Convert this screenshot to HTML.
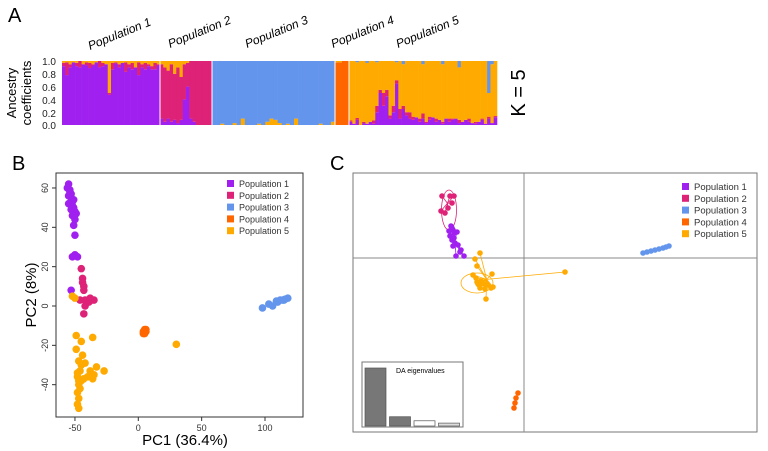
<!DOCTYPE html>
<html><head><meta charset="utf-8"><style>
html,body{margin:0;padding:0;background:#fff;}
svg{display:block;font-family:"Liberation Sans",sans-serif;}
</style></head><body>
<svg id="fig" width="768" height="451" viewBox="0 0 768 451">
<text x="8" y="22" font-size="20">A</text>
<g id="structure"></g>
<g font-size="10" text-anchor="end" fill="#222">
<text x="56" y="65">1.0</text><text x="56" y="78">0.8</text><text x="56" y="91">0.6</text><text x="56" y="104">0.4</text><text x="56" y="117">0.2</text><text x="56" y="129">0.0</text>
</g>
<text transform="translate(16,93) rotate(-90)" font-size="13" text-anchor="middle">Ancestry</text>
<text transform="translate(31,93) rotate(-90)" font-size="13" text-anchor="middle">coefficients</text>
<text transform="translate(525,93) rotate(-90)" font-size="20" text-anchor="middle">K = 5</text>
<g font-size="12" font-style="italic">
<text transform="translate(90,50) rotate(-22)">Population 1</text>
<text transform="translate(170,48) rotate(-22)">Population 2</text>
<text transform="translate(247,48) rotate(-22)">Population 3</text>
<text transform="translate(333,48) rotate(-22)">Population 4</text>
<text transform="translate(398,48) rotate(-22)">Population 5</text>
</g>

<text x="12" y="170" font-size="20">B</text>
<rect x="56" y="173" width="247" height="244" fill="none" stroke="#333" stroke-width="1"/>
<g id="pca"></g>
<text x="185" y="445" font-size="15" text-anchor="middle">PC1 (36.4%)</text>
<text transform="translate(36,295) rotate(-90)" font-size="15" text-anchor="middle">PC2 (8%)</text>
<g id="legB"></g>

<text x="330" y="170" font-size="20">C</text>
<rect x="353" y="173" width="404" height="259" fill="none" stroke="#777" stroke-width="1"/>
<line x1="524" y1="173" x2="524" y2="432" stroke="#888"/>
<line x1="353" y1="258" x2="757" y2="258" stroke="#888"/>
<g id="dapc"></g>
<g id="legC"></g>
<rect x="362" y="362" width="101" height="65" fill="#fff" stroke="#777"/>
<text x="396" y="373" font-size="7">DA eigenvalues</text>
<g id="eig"></g>
</svg>
<script>
const NS="http://www.w3.org/2000/svg";
const COLORS=["#a020f0","#dd2277","#6495ed","#ff6600","#ffaa00"];
const popNames=["Population 1","Population 2","Population 3","Population 4","Population 5"];
// Structure plot data
const p1Magenta=[0.05,0.2,0.05,0,0.05,0.1,0,0.05,0.08,0.02,0,0.1,0.05,0,0.03,0.1,0.02,0.05,0,0.15,0.05,0.1,0,0.2,0.05,0.1,0.03,0.05,0.1,0.02];
const p1Orange=[0.03,0.02,0.05,0.02,0.03,0,0.05,0.02,0.03,0.05,0.02,0,0.03,0.05,0.5,0.03,0.02,0.05,0.03,0.02,0.05,0.03,0.1,0.02,0.05,0.03,0.05,0.08,0.03,0.05];
const p2Purple=[0.1,0.05,0.1,0.05,0.08,0.03,0.08,0.4,0.6,0.1,0.05,0,0,0,0,0];
const p2Orange=[0.05,0.1,0.15,0.05,0.2,0.1,0.25,0.05,0.03,0,0,0,0,0,0,0];
const p3Orange=[0,0,0.02,0,0,0.03,0,0.1,0,0,0,0.02,0,0.05,0.1,0.08,0.03,0,0.02,0,0.1,0,0,0,0,0,0.02,0,0,0.05];
const p4Orange=[0.02,0.02,0,0];
const p5Purple=[0.05,0.02,0.08,0,0.03,0.02,0.05,0.02,0.2,0.5,0.3,0.45,0.1,0.2,0.65,0.1,0.25,0.15,0.1,0.08,0.12,0.05,0.1,0.03,0.08,0.12,0.05,0.08,0.02,0.1,0.05,0.08,0.1,0.03,0.05,0.08,0.05,0.03,0.02,0.05,0.08,0.02,0.1,0.03,0.12];
const p5Magenta=[0.02,0,0.03,0,0.02,0,0,0.05,0.1,0.05,0.2,0.1,0.05,0.1,0.05,0.15,0.05,0.05,0.1,0.05,0,0.05,0.08,0.02,0.05,0,0.05,0,0.03,0,0.05,0.02,0,0.05,0,0,0.05,0,0.03,0,0.02,0,0.03,0,0.02];
const p5Blue=[0,0,0.02,0,0,0.03,0,0,0.02,0,0,0,0,0,0.02,0,0.05,0,0,0,0,0,0.05,0,0,0,0,0,0.05,0,0,0,0,0.1,0,0,0,0,0,0,0,0,0.5,0.05,0];
const popBounds=[62,160,212,335,349,497];

// PCA data
const b1x=[-55,-56,-54,-55,-53,-52,-55,-51,-53,-50,-49,-52,-50,-51,-50,-52,-50,-48,-53,-54,-53,-51,-52];
const b1y=[62,60,58,56,55,53,52,50,49,48,47,46,44,41,36,25,26,25,8,59,57,54,51];
const b2x=[-45,-44,-44,-43,-43,-46,-42,-40,-37,-35,-39,-42,-43,-38];
const b2y=[19,14,12,10,8,3,3,3,3,3,2,0,-4,4];
const b3x=[98,103,106,110,112,114,116,118,109,115];
const b3y=[-1,1,0,2,3,3,3.5,4,2.5,3];
const b4x=[4,5,6,5,6,4];
const b4y=[-13,-12,-13,-14,-12,-14];
const b5x=[-52,-50,-49,-45,-36,-49,-44,-47,-45,-42,-38,-33,-27,-35,-40,-46,-48,-47,-48,-47,-48,-47,-45,-43,-36,30,-47,-46,-48];
const b5y=[5,4,-15,-18,-16,-22,-25,-28,-30,-29,-33,-31,-33,-35,-36,-33,-36,-40,-44,-47,-50,-52,-38,-37,-37,-19.5,-38,-42,-34];
const xTicks=[-50,0,50,100];
const yTicks=[-40,-20,0,20,40,60];

// DAPC data
const c1x=[-73,-71,-70,-74,-72,-69,-71,-66,-63,-68,-72,-70,-67,-75,-60,-64];
const c1y=[32,28,25,22,18,15,12,13,8,2,30,20,26,27,2,6];
const c2x=[-82,-74,-70,-83,-79,-76,-72];
const c2y=[62,62,62,47,45,50,55];
const c3x=[119,123,127,131,135,139,142,145];
const c3y=[5,6,7,8,9,10,11,12];
const c4x=[-6,-8,-9,-10];
const c4y=[-135,-140,-145,-150];
const c5x=[-49,-47,-51,-48,-43,-45,-40,-36,-33,-39,-38,-32,-31,-44,-44,41,-47,-46];
const c5y=[-1,-8,-17,-20,-23,-27,-26,-27,-30,-31,-41,-16,-29,-30,5,-14,-24,-26];
const eigenVals=[1,0.16,0.09,0.05];

function el(tag,attrs,parent){const e=document.createElementNS(NS,tag);for(const k in attrs)e.setAttribute(k,attrs[k]);parent.appendChild(e);return e;}

// Structure
const sg=document.getElementById('structure');
const yA=v=>125-v*64;
function individuals(p){
  if(p===0)return p1Magenta.map((m,i)=>[1-m-p1Orange[i],m,0,0,p1Orange[i]]);
  if(p===1)return p2Purple.map((u,i)=>[u,1-u-p2Orange[i],0,0,p2Orange[i]]);
  if(p===2)return p3Orange.map(o=>[0,0,1-o,0,o]);
  if(p===3)return p4Orange.map(o=>[0,0,0,1-o,o]);
  return p5Purple.map((u,i)=>[u,p5Magenta[i],p5Blue[i],0,1-u-p5Magenta[i]-p5Blue[i]]);
}
const order=[0,1,3,4,2];
for(let p=0;p<5;p++){
  const ind=individuals(p);const x0=popBounds[p],w=(popBounds[p+1]-x0)/ind.length;
  ind.forEach((q,i)=>{let cum=0;order.forEach(k=>{if(q[k]>0){
    const r=el('rect',{x:x0+i*w,y:yA(cum+q[k]),width:w+0.3,height:q[k]*64,fill:COLORS[k]},sg);
    
    
    cum+=q[k];}});});
  if(p>0){const l=el('line',{x1:x0,x2:x0,y1:61,y2:125,stroke:'#fff','stroke-width':1},sg);
    
    }
}

// PCA
const pg=document.getElementById('pca');
const xB=v=>138.3+v*1.267, yB=v=>306-v*1.967;
xTicks.forEach(t=>{el('line',{x1:xB(t),x2:xB(t),y1:417,y2:421,stroke:'#333'},pg);
  const tx=el('text',{x:xB(t),y:431,'font-size':9,'text-anchor':'middle',fill:'#333'},pg);tx.textContent=t;
  
  });
yTicks.forEach(t=>{el('line',{x1:52,x2:56,y1:yB(t),y2:yB(t),stroke:'#333'},pg);
  const tx=el('text',{transform:`translate(48,${yB(t)}) rotate(-90)`,'font-size':9,'text-anchor':'middle',fill:'#333'},pg);tx.textContent=t;
  
  });
[[b1x,b1y],[b2x,b2y],[b3x,b3y],[b4x,b4y],[b5x,b5y]].forEach((s,k)=>{s[0].forEach((x,i)=>{
  const c=el('circle',{cx:xB(x),cy:yB(s[1][i]),r:3.8,fill:COLORS[k]},pg);
  
  });});

function legend(id,x,y0,dy,fs){const g=document.getElementById(id);popNames.forEach((n,k)=>{
  el('rect',{x:x,y:y0+k*dy-4,width:7,height:7,fill:COLORS[k]},g);
  const t=el('text',{x:x+12,y:y0+k*dy+3,'font-size':fs,fill:'#333'},g);t.textContent=n;
  
  });}
legend('legB',227,184,11.8,9);
legend('legC',682,187,11.8,9.5);

// DAPC
const dg=document.getElementById('dapc');
const xC=v=>524+v, yC=v=>258-v;
function centroid(xs,ys){return[xs.reduce((a,b)=>a+b)/xs.length,ys.reduce((a,b)=>a+b)/ys.length];}
const cs=[[c1x,c1y],[c2x,c2y],[c3x,c3y],[c4x,c4y],[c5x,c5y]];
el('ellipse',{cx:xC(-75),cy:yC(48),rx:7.5,ry:20,fill:'none',stroke:COLORS[1],'stroke-width':0.8},dg);
el('ellipse',{cx:xC(-47),cy:yC(-25),rx:16,ry:10,fill:'none',stroke:COLORS[4],'stroke-width':0.8},dg);
cs.forEach((s,k)=>{const c=centroid(s[0],s[1]);s[0].forEach((x,i)=>{
  el('line',{x1:xC(c[0]),y1:yC(c[1]),x2:xC(x),y2:yC(s[1][i]),stroke:COLORS[k],'stroke-width':0.8},dg);});
  s[0].forEach((x,i)=>{const p=el('circle',{cx:xC(x),cy:yC(s[1][i]),r:2.8,fill:COLORS[k]},dg);
  
  });});

// eigen bars
const eg=document.getElementById('eig');
const eFill=['#777','#777','#fff','#ddd'];
eigenVals.forEach((v,i)=>{const b=el('rect',{x:365+i*24.5,y:426-v*58,width:21,height:v*58,fill:eFill[i],stroke:'#555','stroke-width':0.7},eg);
  
  });
</script>
</body></html>
